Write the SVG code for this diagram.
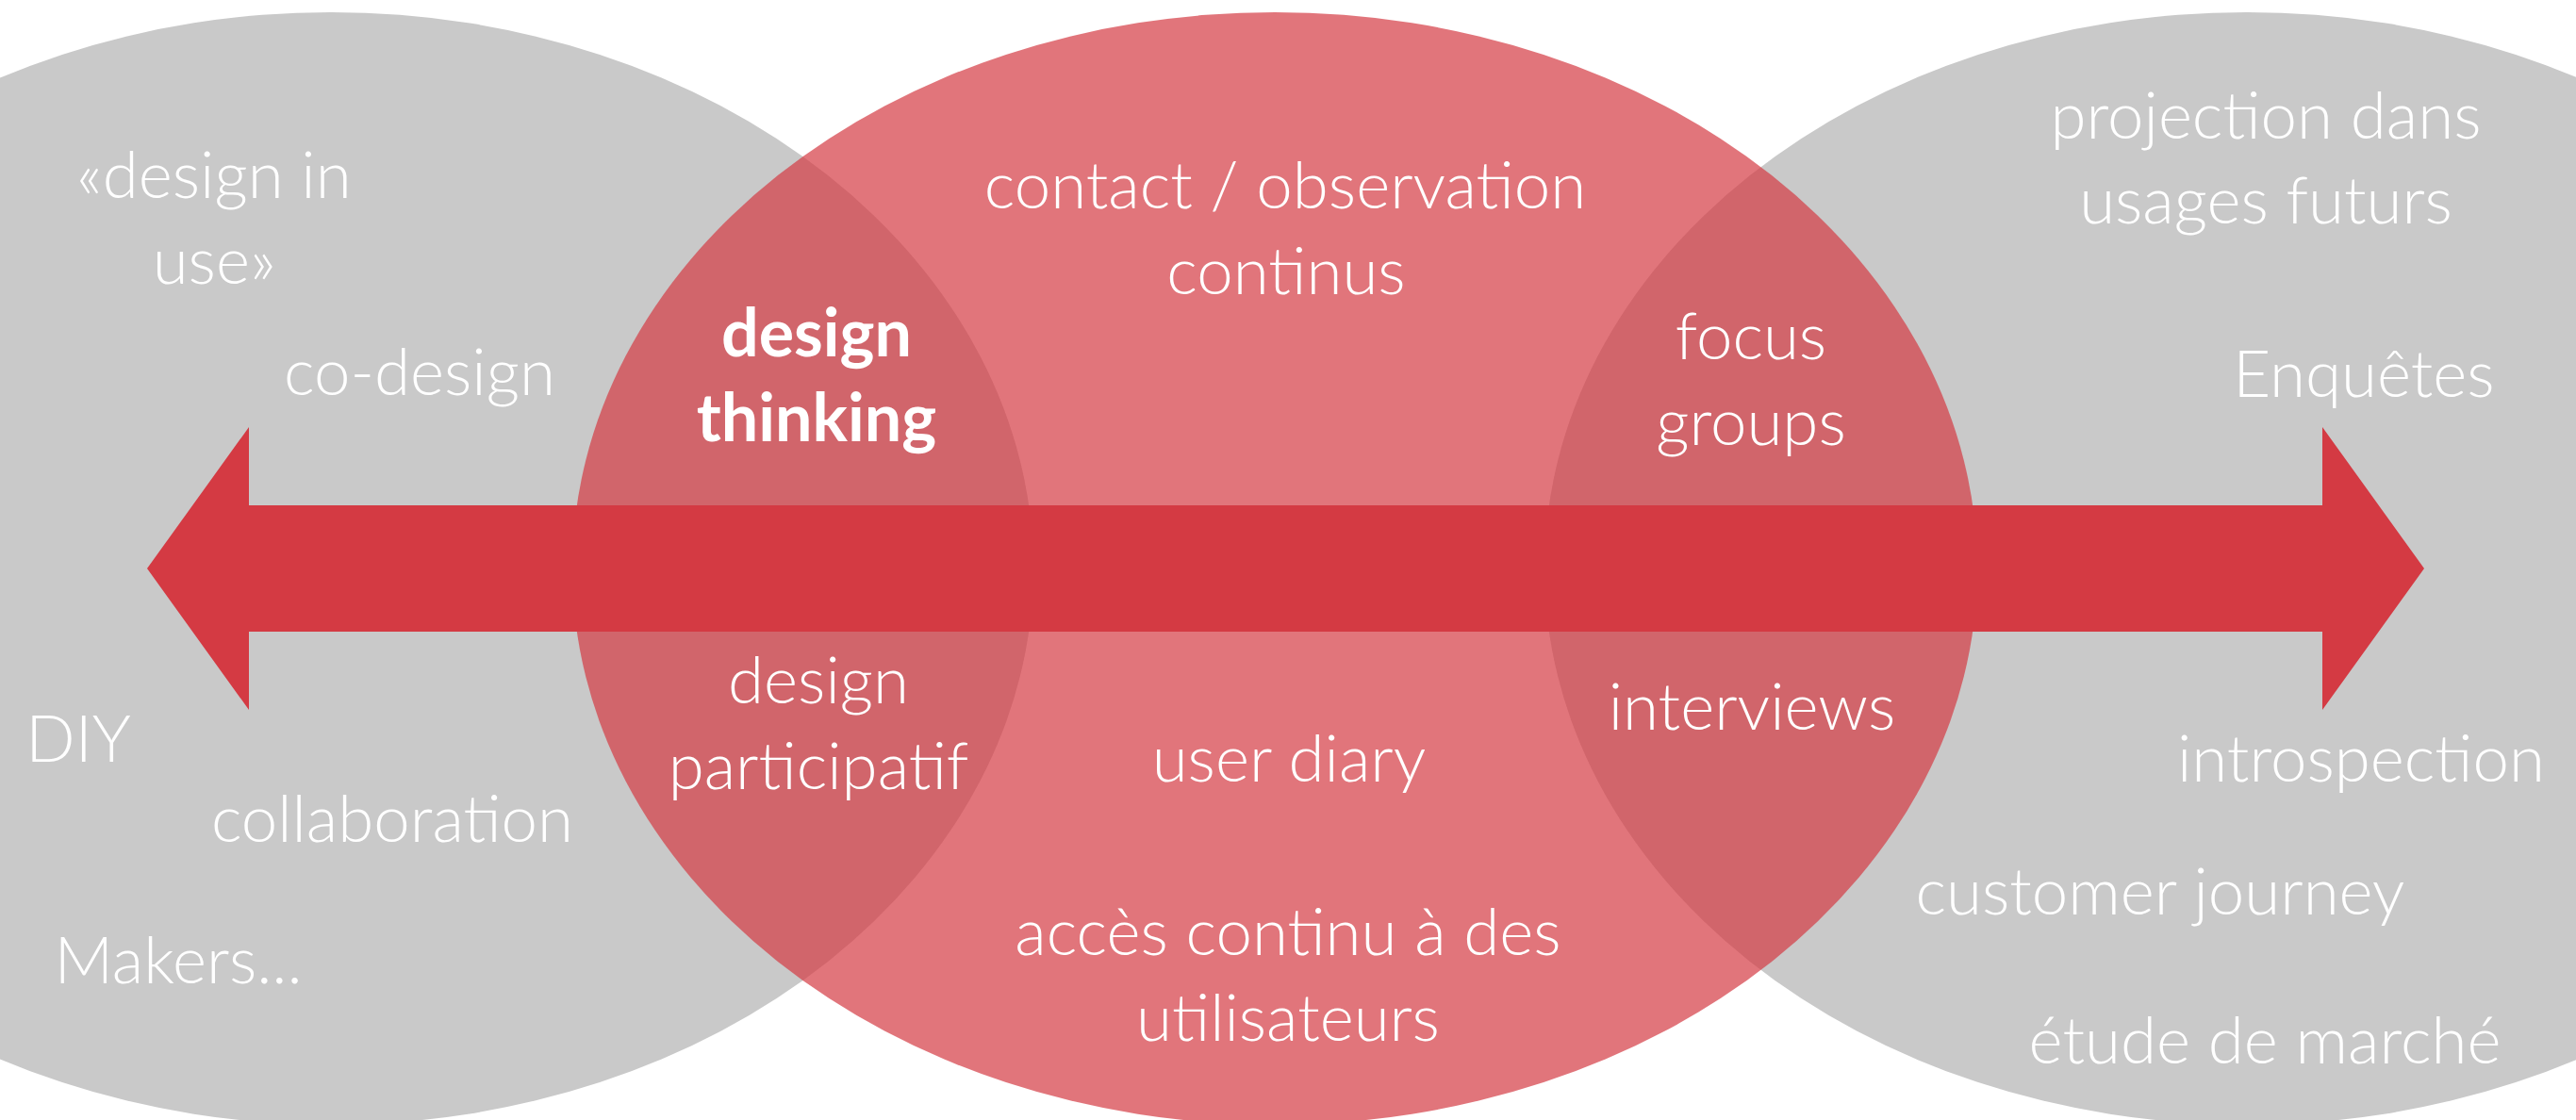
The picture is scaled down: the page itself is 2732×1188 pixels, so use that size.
<svg xmlns="http://www.w3.org/2000/svg" width="2732" height="1188" viewBox="0 0 2732 1188">
<style>
.gray{fill:#C9C9C9}
.red{fill:#D43A43;fill-opacity:0.7}
.arrow{fill:#D43A43}
text{font-family:Lato,"Open Sans","Liberation Sans",sans-serif;font-weight:300;font-size:69px;fill:#FFFFFF;text-anchor:middle}
.b{font-weight:700;font-size:70px}
</style>
<rect width="2732" height="1188" fill="#FFFFFF"/>
<g id="left-circle">
<ellipse class="gray" cx="351" cy="603" rx="745" ry="590"/>
</g>
<g id="right-circle">
<ellipse class="gray" cx="2383" cy="603" rx="745" ry="590"/>
</g>
<g id="center-circle">
<ellipse class="red" cx="1352" cy="603" rx="745" ry="590"/>
</g>
<g id="connectors">
<polygon class="arrow" points="156,603 264,453 264,536 2463,536 2463,453 2571,603 2463,753 2463,670 264,670 264,753"/>
</g>
<g id="left-labels">
<text x="227" y="210">«design in</text>
<text x="227" y="301">use»</text>
<text x="445" y="419">co-design</text>
<text x="83" y="808">DIY</text>
<text x="416" y="893">collaboration</text>
<text x="189" y="1043">Makers...</text>
</g>
<g id="left-overlap-labels">
<text class="b" x="866" y="378">design</text>
<text class="b" x="866" y="468">thinking</text>
<text x="868" y="746">design</text>
<text x="868" y="837">participatif</text>
</g>
<g id="center-labels">
<text x="1363" y="221">contact / observation</text>
<text x="1364" y="312">continus</text>
<text x="1367" y="829">user diary</text>
<text x="1366" y="1013">accès continu à des</text>
<text x="1366" y="1104">utilisateurs</text>
</g>
<g id="right-overlap-labels">
<text x="1857" y="381">focus</text>
<text x="1857" y="472">groups</text>
<text x="1858" y="774">interviews</text>
</g>
<g id="right-labels">
<text x="2403" y="147">projection dans</text>
<text x="2403" y="237">usages futurs</text>
<text x="2507" y="421">Enquêtes</text>
<text x="2504" y="829">introspection</text>
<text x="2291" y="970">customer journey</text>
<text x="2402" y="1128">étude de marché</text>
</g>
</svg>
